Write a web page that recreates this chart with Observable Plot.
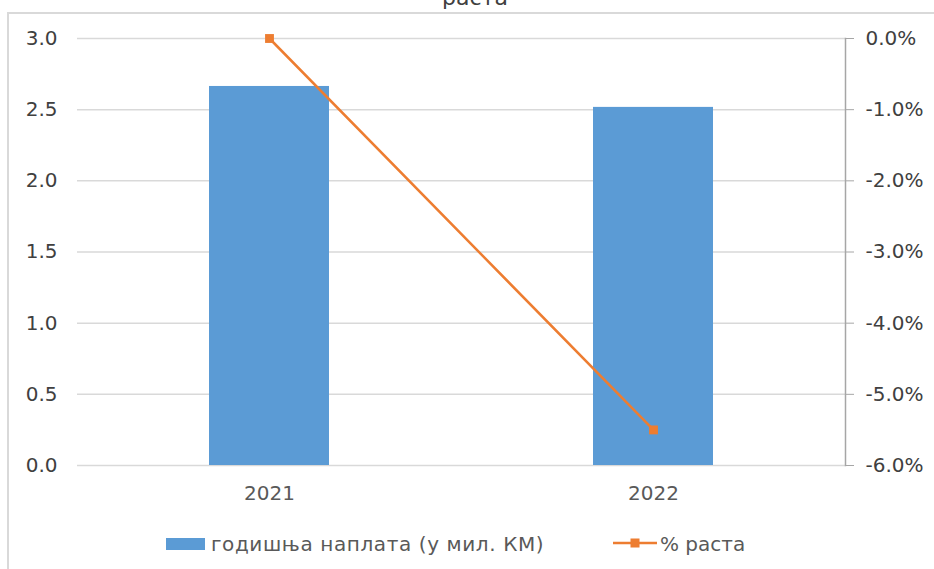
<!DOCTYPE html>
<html>
<head>
<meta charset="utf-8">
<script src="https://cdn.jsdelivr.net/npm/d3@7"></script>
<script src="https://cdn.jsdelivr.net/npm/@observablehq/plot@0.6"></script>
<style>
  body { margin: 0; background: #fff; }
  #wrap { position: relative; width: 934px; height: 569px; overflow: hidden; font-family: "DejaVu Sans", Verdana, sans-serif; background: #fff; }
  #frame { position: absolute; left: 7px; top: 12px; width: 960px; height: 620px; border: 2px solid #d9d9d9; box-sizing: border-box; }
  #title { position: absolute; top: -15px; left: 0; width: 950px; text-align: center; font-size: 22px; color: #404040; line-height: 26px; }
  #chart { position: absolute; left: 0; top: 0; }
  .leg { position: absolute; font-size: 20px; color: #595959; line-height: 24px; white-space: nowrap; }
</style>
</head>
<body>
<div id="wrap">
  <div id="frame"></div>
  <div id="title">раста</div>
  <div id="chart"></div>
  <div id="legend"></div>
</div>
<script>
const years = ["2021", "2022"];
const naplata = [2.663, 2.516];          // годишња наплата (у мил. КМ)
const rast = [0.0, -5.5];                // % раста
const leftTicks = [0, 0.5, 1.0, 1.5, 2.0, 2.5, 3.0];
const rightTicks = [0, -1, -2, -3, -4, -5, -6];
const seriesNames = ["годишња наплата (у мил. КМ)", "% раста"];
const colors = ["#5b9bd5", "#ed7d31"];

// map right-axis percent [-6, 0] onto left-axis [0, 3]
const pctMin = -6, pctMax = 0, leftMax = 3;
const toLeft = p => (p - pctMin) / (pctMax - pctMin) * leftMax;
const fromLeft = v => v / leftMax * (pctMax - pctMin) + pctMin;

const data = years.map((y, i) => ({year: y, value: naplata[i], pct: rast[i]}));

const chart = Plot.plot({
  width: 934,
  height: 510,
  marginLeft: 77,
  marginRight: 89,
  marginTop: 38,
  marginBottom: 45,
  style: {fontFamily: "'DejaVu Sans', Verdana, sans-serif", fontSize: "20px", color: "#404040", background: "transparent"},
  x: {domain: years, paddingInner: 0.6875, paddingOuter: 0.34375, label: null},
  y: {domain: [0, 3], label: null},
  marks: [
    Plot.gridY(leftTicks, {stroke: "#d9d9d9", strokeOpacity: 1, strokeWidth: 1.5}),
    Plot.barY(data, {x: "year", y: "value", fill: colors[0]}),
    Plot.axisY(leftTicks, {anchor: "left", tickSize: 0, tickPadding: 20, tickFormat: d => d.toFixed(1), label: null}),
    Plot.axisY(rightTicks.map(toLeft), {anchor: "right", tickSize: 8, tickPadding: 12, stroke: "#a6a6a6", textStroke: "none", tickFormat: d => fromLeft(d).toFixed(1) + "%", label: null}),
    Plot.frame({anchor: "right", stroke: "#a6a6a6", strokeWidth: 1.5}),
    Plot.axisX({tickSize: 0, tickPadding: 20, color: "#595959", label: null}),
    Plot.line(data, {x: "year", y: d => toLeft(d.pct), stroke: colors[1], strokeWidth: 2.5}),
    Plot.dot(data, {x: "year", y: d => toLeft(d.pct), symbol: "square", r: 5, fill: colors[1], stroke: "none"})
  ]
});
document.getElementById("chart").appendChild(chart);

// legend
const leg = document.getElementById("legend");
leg.innerHTML = `
  <div style="position:absolute;left:166px;top:538px;width:39px;height:12px;background:${colors[0]}"></div>
  <div class="leg" style="left:211px;top:532px;letter-spacing:0.6px">${seriesNames[0]}</div>
  <svg style="position:absolute;left:610px;top:534px" width="50" height="18">
    <line x1="3" x2="47" y1="9" y2="9" stroke="${colors[1]}" stroke-width="2.5"/>
    <rect x="20.5" y="4.5" width="9" height="9" fill="${colors[1]}"/>
  </svg>
  <div class="leg" style="left:660px;top:532px">${seriesNames[1]}</div>
`;
</script>
</body>
</html>
